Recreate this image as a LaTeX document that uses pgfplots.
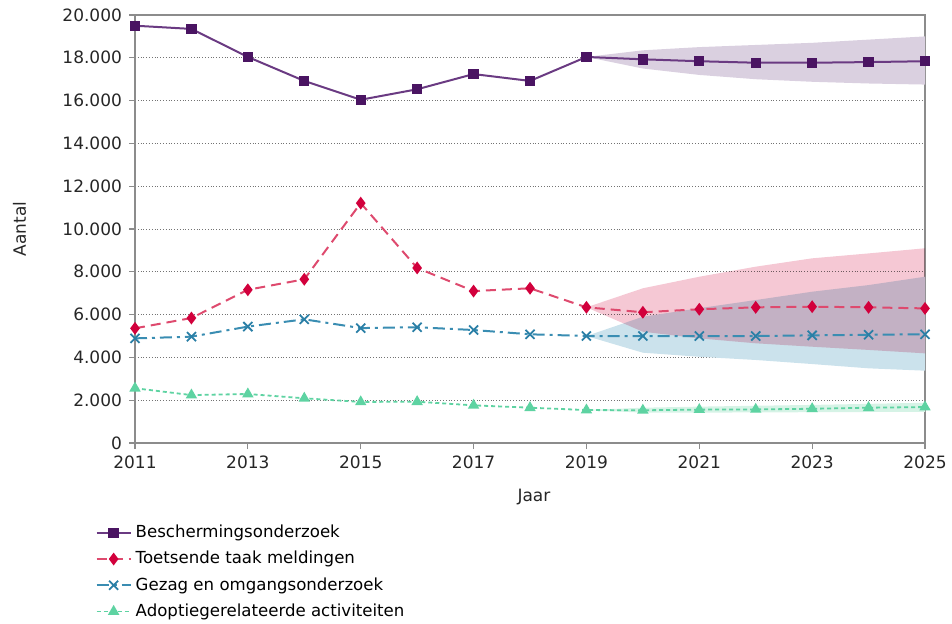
\documentclass[border=0pt]{standalone}
\usepackage{pgfplots}
\pgfplotsset{compat=1.18}
\usepackage{fontspec}
\setmainfont{DejaVu Sans}
\definecolor{cpurple}{HTML}{4A1462}
\definecolor{cpurpleline}{HTML}{6A3A82}
\definecolor{cred}{HTML}{D2003C}
\definecolor{credline}{HTML}{DE4A6E}
\definecolor{cblue}{HTML}{2A7FA6}
\definecolor{cblueline}{HTML}{3A8DB2}
\definecolor{cgreen}{HTML}{5ED3A2}
\definecolor{bandpurple}{HTML}{DAD0E0}
\definecolor{bandred}{HTML}{F5C8D4}
\definecolor{bandblue}{HTML}{CBE2EC}
\definecolor{bandgreen}{HTML}{D6F3E6}
\definecolor{axgray}{HTML}{8C8C8C}
\begin{document}
\begin{tikzpicture}[x=1pt,y=1pt]
\begin{axis}[
  at={(0,0)}, anchor=south west,
  scale only axis, width=395pt, height=214pt,
  xmin=2011, xmax=2025, ymin=0, ymax=20000,
  xtick={2011,2013,...,2025},
  ytick={0,2000,...,20000},
  scaled y ticks=false,
  /pgf/number format/.cd, 1000 sep={.}, assume math mode=true,
  /pgfplots/.cd,
  x tick label style={/pgf/number format/1000 sep={}},
  tick label style={font=\fontsize{8.5}{10}\selectfont, color=black!85},
  ymajorgrids, grid style={densely dotted, black!55, line width=0.5pt},
  axis line style={axgray, line width=0.9pt},
  tick style={axgray, line width=0.6pt},
  tick align=outside, major tick length=3pt,
  xtick pos=bottom, ytick pos=left,
  xlabel={Jaar}, ylabel={Aantal},
  label style={font=\fontsize{8.5}{10}\selectfont, color=black!85},
  xlabel style={at={(axis description cs:0.505,-0.127)}, anchor=center},
  ylabel style={at={(axis description cs:-0.146,0.5)}, anchor=center},
  legend style={at={(axis description cs:-0.058,-0.172)}, anchor=north west,
    draw=none, fill=none, font=\fontsize{8.3}{10}\selectfont,
    row sep=1.3pt, cells={anchor=west}},
  legend cell align=left,
  clip=false,
]
% bands
\addplot[draw=none, fill=bandpurple, forget plot] coordinates {
 (2019,18040) (2020,18350) (2021,18500) (2022,18600) (2023,18700) (2024,18850) (2025,19000)
 (2025,16750) (2024,16800) (2023,16880) (2022,17000) (2021,17200) (2020,17500) (2019,18040)};
\addplot[draw=none, fill=bandblue, forget plot] coordinates {
 (2019,5000) (2020,5900) (2021,6300) (2022,6680) (2023,7070) (2024,7380) (2025,7770)
 (2025,3380) (2024,3490) (2023,3690) (2022,3880) (2021,4030) (2020,4220) (2019,5000)};
\addplot[draw=none, fill=bandred, forget plot, blend mode=multiply] coordinates {
 (2019,6340) (2020,7230) (2021,7770) (2022,8240) (2023,8630) (2024,8860) (2025,9100)
 (2025,4190) (2024,4350) (2023,4500) (2022,4660) (2021,4890) (2020,5200) (2019,6340)};
\addplot[draw=none, fill=bandgreen, forget plot] coordinates {
 (2019,1540) (2020,1650) (2021,1700) (2022,1740) (2023,1780) (2024,1830) (2025,1880)
 (2025,1460) (2024,1450) (2023,1440) (2022,1430) (2021,1420) (2020,1420) (2019,1540)};
% series
\addplot[cpurpleline, line width=1pt, mark=square*, mark size=2.1pt,
  mark options={fill=cpurple, draw=cpurple, solid}] coordinates {
 (2011,19500) (2012,19350) (2013,18040) (2014,16920) (2015,16040) (2016,16530)
 (2017,17240) (2018,16920) (2019,18040) (2020,17930) (2021,17840) (2022,17770)
 (2023,17770) (2024,17800) (2025,17840)};
\addlegendentry{Beschermingsonderzoek}
\addplot[credline, line width=1pt, dash pattern=on 5pt off 3pt, mark=diamond*, mark size=2.4pt,
  mark options={fill=cred, draw=cred, solid}] coordinates {
 (2011,5360) (2012,5840) (2013,7160) (2014,7650) (2015,11210) (2016,8180)
 (2017,7100) (2018,7230) (2019,6340) (2020,6110) (2021,6250) (2022,6340)
 (2023,6370) (2024,6340) (2025,6290)};
\addlegendentry{Toetsende taak meldingen}
\addplot[cblueline, line width=1pt, dash pattern=on 6pt off 2.5pt on 1.5pt off 2.5pt, mark=x, mark size=3.2pt,
  mark options={draw=cblue, solid, line width=0.9pt}] coordinates {
 (2011,4890) (2012,4970) (2013,5440) (2014,5780) (2015,5370) (2016,5410)
 (2017,5280) (2018,5080) (2019,5000) (2020,5000) (2021,5000) (2022,5000)
 (2023,5030) (2024,5060) (2025,5080)};
\addlegendentry{Gezag en omgangsonderzoek}
\addplot[cgreen, line width=0.9pt, dash pattern=on 2pt off 1.5pt, mark=triangle*, mark size=2.4pt,
  mark options={fill=cgreen, draw=cgreen, solid}] coordinates {
 (2011,2560) (2012,2240) (2013,2290) (2014,2090) (2015,1920) (2016,1930)
 (2017,1760) (2018,1650) (2019,1540) (2020,1530) (2021,1560) (2022,1570)
 (2023,1600) (2024,1650) (2025,1680)};
\addlegendentry{Adoptiegerelateerde activiteiten}
\end{axis}
\pgfresetboundingbox
\path[use as bounding box] (-67.5pt,-90pt) rectangle (408.5pt,221.5pt);
\end{tikzpicture}
\end{document}
